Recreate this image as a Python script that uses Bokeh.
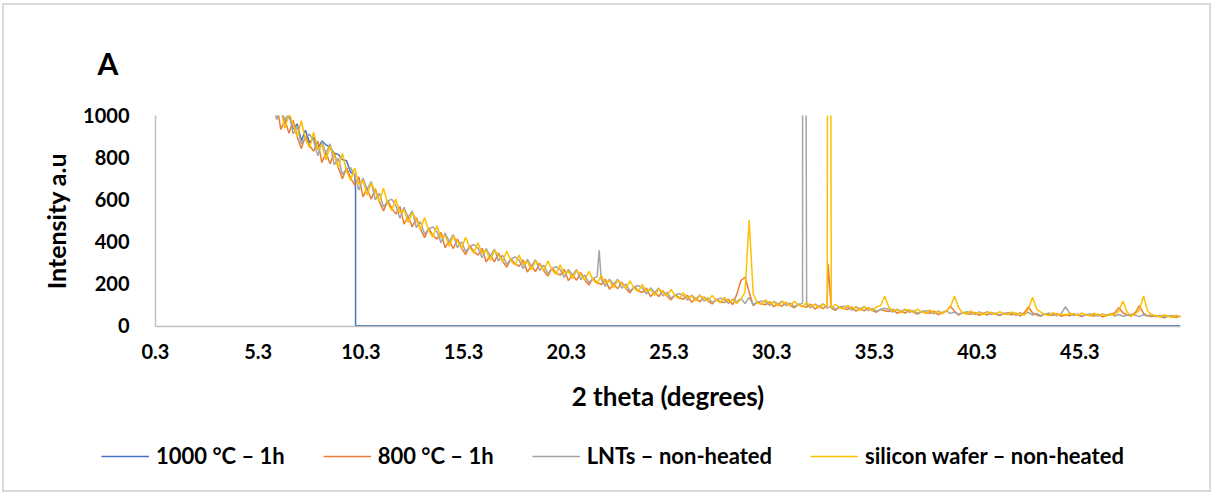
from bokeh.plotting import figure
from bokeh.layouts import column
from bokeh.models import Range1d, FixedTicker, Legend, LegendItem
from bokeh.embed import file_html
from bokeh.resources import INLINE

FONT = "Lato"

series_names = ["1000 °C – 1h", "800 °C – 1h", "LNTs – non-heated", "silicon wafer – non-heated"]
series_colors = ["#4472C4", "#ED7D31", "#A5A5A5", "#FFC000"]

x_ticks = [0.3, 5.3, 10.3, 15.3, 20.3, 25.3, 30.3, 35.3, 40.3, 45.3]
x_tick_labels = ["0.3", "5.3", "10.3", "15.3", "20.3", "25.3", "30.3", "35.3", "40.3", "45.3"]
y_ticks = [0, 200, 400, 600, 800, 1000]

# measurement grid of 2-theta (degrees): start and step
grid_start = 6.0
grid_step = 0.2

silicon_wafer = [
    1115, 1013, 1027, 940, 1008, 961, 899, 975, 887, 846,
    920, 838, 861, 789, 855, 810, 752, 819, 736, 692,
    750, 672, 690, 622, 678, 639, 590, 654, 583, 548,
    603, 535, 551, 491, 538, 503, 459, 515, 452, 422,
    475, 416, 430, 378, 426, 402, 368, 421, 370, 345,
    394, 342, 358, 312, 357, 336, 306, 355, 309, 289,
    336, 289, 306, 265, 308, 289, 261, 308, 265, 245,
    289, 246, 260, 224, 262, 243, 217, 258, 219, 200,
    239, 201, 214, 181, 216, 200, 177, 213, 178, 162,
    196, 163, 173, 144, 175, 160, 140, 173, 142, 128,
    157, 131, 140, 118, 143, 132, 117, 144, 121, 110,
    135, 114, 123, 105, 126, 160, 502, 150, 109, 101,
    123, 104, 112, 94, 114, 107, 95, 116, 98, 90,
    110, 92, 100, 84, 101, 93, 83, 102, 86, 79,
    97, 81, 87, 73, 89, 82, 72, 90, 95, 140,
    88, 70, 76, 62, 77, 72, 63, 79, 65, 59,
    75, 61, 68, 56, 69, 90, 141, 85, 60, 55,
    69, 57, 62, 53, 65, 61, 54, 67, 56, 52,
    66, 54, 59, 50, 80, 135, 78, 64, 53, 49,
    62, 51, 56, 48, 59, 54, 49, 61, 51, 47,
    59, 49, 54, 45, 56, 52, 70, 117, 65, 45,
    55, 75, 141, 70, 51, 47, 42, 52, 44, 40,
    50, 42,
]
silicon_wafer_spike_x = [33.05, 33.09]
silicon_wafer_spike_y = [5000, 5000]

heated_800 = [
    1016, 1057, 933, 979, 915, 977, 899, 843, 903, 857,
    830, 878, 776, 824, 770, 825, 752, 699, 751, 702,
    669, 708, 613, 653, 601, 652, 590, 546, 596, 558,
    531, 567, 483, 519, 470, 515, 459, 419, 464, 430,
    412, 444, 371, 403, 367, 412, 368, 338, 380, 352,
    336, 368, 303, 335, 303, 346, 306, 278, 318, 295,
    282, 313, 255, 286, 257, 298, 261, 236, 274, 251,
    240, 268, 214, 243, 216, 252, 217, 193, 227, 205,
    196, 221, 173, 198, 175, 207, 177, 156, 185, 167,
    158, 179, 138, 159, 139, 166, 140, 123, 148, 133,
    126, 145, 111, 130, 114, 137, 117, 103, 126, 114,
    110, 126, 99, 150, 215, 230, 160, 95, 113, 104,
    100, 114, 90, 103, 92, 111, 95, 85, 102, 92,
    88, 102, 79, 93, 81, 97, 83, 73, 89, 81,
    77, 89, 69, 81, 70, 86, 72, 64, 78, 71,
    67, 78, 59, 69, 60, 75, 63, 55, 68, 61,
    59, 69, 52, 62, 70, 92, 68, 50, 63, 56,
    55, 63, 49, 58, 51, 63, 54, 48, 59, 54,
    52, 60, 46, 62, 90, 60, 51, 45, 56, 51,
    49, 57, 44, 53, 47, 57, 49, 44, 53, 48,
    46, 55, 42, 50, 52, 62, 85, 60, 51, 46,
    62, 95, 58, 47, 43, 49, 43, 37, 46, 41,
    40, 45,
]
heated_800_spike_x = [33.04]
heated_800_spike_y = [295]

lnts = [
    1071, 980, 1043, 974, 1020, 912, 948, 865, 898, 911,
    880, 808, 876, 819, 865, 765, 797, 719, 746, 752,
    714, 645, 703, 649, 686, 599, 630, 564, 592, 602,
    571, 511, 563, 515, 546, 467, 495, 435, 460, 470,
    447, 395, 441, 400, 433, 371, 399, 352, 377, 386,
    368, 323, 367, 331, 364, 308, 335, 291, 315, 327,
    312, 271, 315, 283, 314, 262, 288, 248, 271, 281,
    267, 230, 268, 240, 267, 219, 241, 204, 224, 233,
    220, 187, 221, 196, 221, 178, 198, 165, 183, 191,
    179, 150, 180, 157, 179, 141, 159, 131, 146, 153,
    143, 121, 145, 128, 146, 117, 132, 110, 124, 130,
    124, 106, 127, 114, 129, 105, 135, 100, 112, 118,
    113, 96, 116, 102, 117, 95, 107, 90, 101, 106,
    100, 85, 103, 91, 104, 83, 94, 78, 88, 93,
    88, 74, 91, 80, 91, 72, 82, 68, 77, 83,
    77, 64, 79, 68, 79, 63, 72, 59, 67, 71,
    68, 56, 70, 61, 71, 57, 65, 54, 62, 66,
    63, 52, 65, 58, 66, 53, 61, 51, 58, 62,
    60, 49, 62, 55, 63, 50, 58, 48, 55, 59,
    56, 47, 58, 90, 60, 48, 55, 47, 52, 55,
    53, 45, 56, 50, 57, 46, 53, 45, 50, 54,
    50, 43, 52, 46, 53, 42, 48, 41, 45, 48,
    43, 46,
]
lnts_spike_x = [21.9, 31.82, 31.86]
lnts_spike_y = [359, 5000, 5000]

heated_1000 = [
    1090, 1000, 1040, 960, 1000, 935, 960, 880, 930, 870,
    895, 840, 880, 860, 850, 820, 815, 790, 785, 730,
    720,
]
heated_1000_tail_x = [10.04, 10.04, 50.2]
heated_1000_tail_y = [650, 0, 0]


def merged(vals, extra_x, extra_y):
    xs = [round(grid_start + grid_step * i, 2) for i in range(len(vals))]
    pts = sorted(zip(xs + list(extra_x), list(vals) + list(extra_y)), key=lambda t: t[0])
    return [t[0] for t in pts], [t[1] for t in pts]


data = [
    merged(heated_1000, heated_1000_tail_x, heated_1000_tail_y),
    merged(heated_800, heated_800_spike_x, heated_800_spike_y),
    merged(lnts, lnts_spike_x, lnts_spike_y),
    merged(silicon_wafer, silicon_wafer_spike_x, silicon_wafer_spike_y),
]

# ---------------- main chart ----------------
p = figure(
    width=1205, height=415, output_backend="svg", toolbar_location=None,
    x_range=Range1d(0.3, 50.2), y_range=Range1d(-4, 1000),
    min_border_left=151, min_border_right=29, min_border_top=110, min_border_bottom=94,
)
p.title.text = "A"
p.title.align = "left"
p.title.offset = -58
p.title.standoff = 70
p.title.text_font = FONT
p.title.text_font_style = "bold"
p.title.text_font_size = "30px"
p.title.text_color = "black"
p.outline_line_color = None
p.xgrid.visible = False
p.ygrid.visible = False
p.background_fill_color = "white"
p.border_fill_color = "white"

for (xs, ys), col in zip(data, series_colors):
    p.line(xs, ys, line_color=col, line_width=1.5)

for ax in (p.xaxis[0], p.yaxis[0]):
    ax.axis_line_color = "#BFBFBF"
    ax.axis_line_width = 1.5
    ax.major_tick_line_color = None
    ax.minor_tick_line_color = None
    ax.major_label_text_font = FONT
    ax.major_label_text_font_style = "bold"
    ax.major_label_text_font_size = "20px"
    ax.major_label_text_color = "black"
    ax.axis_label_text_font = FONT
    ax.axis_label_text_font_style = "bold"
    ax.axis_label_text_color = "black"

p.xaxis.ticker = FixedTicker(ticks=x_ticks)
p.xaxis.major_label_overrides = {t: s for t, s in zip(x_ticks, x_tick_labels)}
p.xaxis.axis_label = "2 theta (degrees)"
p.xaxis.axis_label_text_font_size = "26px"
p.xaxis.major_label_standoff = 11
p.xaxis.axis_label_standoff = 18

p.yaxis.ticker = FixedTicker(ticks=y_ticks)
p.yaxis.axis_label = "Intensity a.u"
p.yaxis.axis_label_text_font_size = "25px"
p.yaxis.major_label_standoff = 20
p.yaxis.axis_label_standoff = 9

# ---------------- legend strip ----------------
leg = figure(
    width=1205, height=70, output_backend="svg", toolbar_location=None,
    x_range=Range1d(0, 1), y_range=Range1d(0, 1),
    x_axis_type=None, y_axis_type=None,
    min_border=0, min_border_left=0, min_border_right=0, min_border_top=0, min_border_bottom=0,
)
leg.frame_align = False
leg.title.visible = False
leg.outline_line_color = None
leg.xgrid.visible = False
leg.ygrid.visible = False
leg.border_fill_color = "white"
leg.background_fill_color = "white"
nan = float("nan")
leg_renderers = [leg.line([nan], [nan], line_color=c, line_width=1.5) for c in series_colors]
legend = Legend(
    items=[LegendItem(label=n, renderers=[r]) for n, r in zip(series_names, leg_renderers)],
    orientation="horizontal", location=(97, 21),
    border_line_color=None, background_fill_alpha=0,
    glyph_width=48, glyph_height=20, label_standoff=7, spacing=38,
    label_text_font=FONT, label_text_font_style="bold", label_text_font_size="22px",
    label_text_color="black",
    margin=0, padding=0,
)
leg.add_layout(legend, "center")

page = column(
    p, leg, spacing=0, margin=(3, 2, 1, 2),
    styles={"border": "2px solid #D9D9D9", "box-sizing": "content-box"},
)

open("out.html", "w").write(file_html(page, INLINE))
